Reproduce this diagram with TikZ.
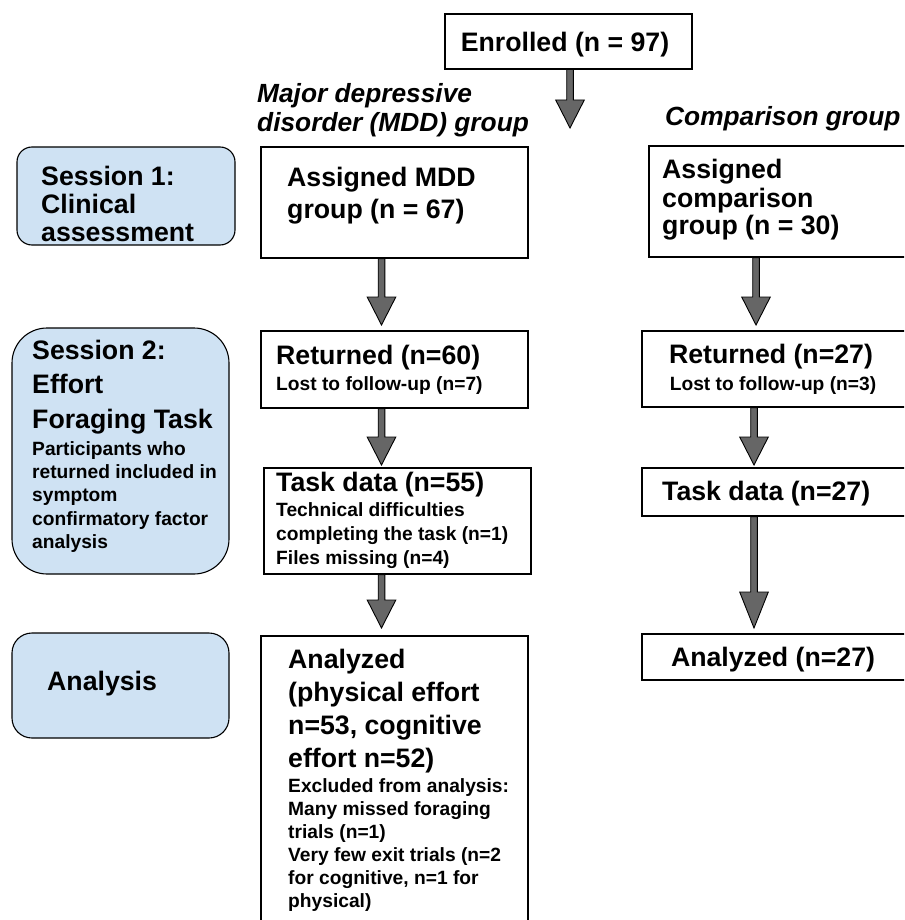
\documentclass[tikz,border=0pt]{standalone}
\usepackage{fontspec}
\setmainfont{Liberation Sans}
\usetikzlibrary{calc}
\definecolor{sessfill}{HTML}{CFE2F3}
\definecolor{arrfill}{HTML}{666666}
\newcommand{\blockarrow}[3][28]{%
  \draw[flowarr] let \p1=(#2), \p2=(#3) in
    (\x2-3.3pt,\y1) -- (\x2-3.3pt,\y2+#1pt) -- (\x2-14.3pt,\y2+#1pt) -- (\x2,\y2)
    -- (\x2+14.3pt,\y2+#1pt) -- (\x2+3.3pt,\y2+#1pt) -- (\x2+3.3pt,\y1) -- cycle;}
\begin{document}
\begin{tikzpicture}[x=1pt,y=-1pt,
  box/.style={draw=black, line width=1.1pt, fill=white, rectangle, inner sep=0pt},
  sess/.style={draw=black, line width=1.1pt, fill=sessfill, rectangle, inner sep=0pt},
  flowarr/.style={draw=black, line width=0.9pt, fill=arrfill, line join=miter},
  txt/.style={inner sep=0pt, anchor=north west, align=left, text=black},
  one/.style={inner sep=0pt, anchor=base west, text=black},
  bigf/.style={font=\fontsize{26.7}{30}\selectfont\bfseries},
  smallf/.style={font=\fontsize{19.2}{23.3}\selectfont\bfseries}]
\useasboundingbox (0,0) rectangle (904,920);
\clip (0,0) rectangle (904,920);

% boxes
\node[box, minimum width=247pt, minimum height=55pt] (enr) at (568.5,41.5) {};
\node[box, minimum width=267pt, minimum height=111pt] (mdd1) at (394.5,202.5) {};
\node[box, minimum width=267pt, minimum height=77pt] (mdd2) at (394.5,369.5) {};
\node[box, minimum width=267pt, minimum height=106pt] (mdd3) at (397.5,521) {};
\node[box, minimum width=267pt, minimum height=304pt] (mdd4) at (394.5,788) {};
\node[box, minimum width=271pt, minimum height=111pt] (cmp1) at (784.5,201.5) {};
\node[box, minimum width=278pt, minimum height=76pt] (cmp2) at (781,369) {};
\node[box, minimum width=278pt, minimum height=48pt] (cmp3) at (781,492) {};
\node[box, minimum width=278pt, minimum height=46pt] (cmp4) at (781,657) {};
\node[sess, rounded corners=15pt, minimum width=218pt, minimum height=98pt] (s1) at (126,196) {};
\node[sess, rounded corners=35pt, minimum width=217pt, minimum height=246pt] (s2) at (120.5,451) {};
\node[sess, rounded corners=20pt, minimum width=217pt, minimum height=105pt] (s3) at (120.5,685.5) {};

% arrow tips
\coordinate (t1) at (570,128);
\coordinate (t2) at (381.5,325);
\coordinate (t3) at (381.5,465);
\coordinate (t4) at (381.5,628);
\coordinate (t5) at (756,325);
\coordinate (t6) at (754,465);
\coordinate (t7) at (754,628);

\blockarrow{enr.south -| t1}{t1}
\blockarrow{mdd1.south -| t2}{t2}
\blockarrow{mdd2.south -| t3}{t3}
\blockarrow{mdd3.south -| t4}{t4}
\blockarrow{cmp1.south -| t5}{t5}
\blockarrow{cmp2.south -| t6}{t6}
\blockarrow[36]{cmp3.south -| t7}{t7}

% texts
\node[inner sep=0pt, anchor=base, bigf] (enrT) at (565,51.5) {Enrolled (n = 97)};
\node[txt, font=\fontsize{26.3}{29}\selectfont\bfseries\itshape] (mddlab) at (257,81.7) {\strut Major depressive\\disorder (MDD) group};
\node[one, font=\fontsize{26.3}{29}\selectfont\bfseries\itshape] (cmplab) at (665,126) {Comparison group};

\node[txt, font=\fontsize{26.7}{28}\selectfont\bfseries] (s1T) at (41,165.4) {\strut Session 1:\\Clinical\\assessment};
\node[txt, font=\fontsize{26.7}{34.5}\selectfont\bfseries] (s2T) at (32,334.9) {\strut Session 2:\\Effort\\Foraging Task};
\node[txt, smallf] (s2S) at (32,438.7) {\strut Participants who\\returned included in\\symptom\\confirmatory factor\\analysis};
\node[one, bigf] (s3T) at (47,690) {Analysis};

\node[txt, font=\fontsize{26.7}{31.5}\selectfont\bfseries] (m1T) at (287,164.6) {\strut Assigned MDD\\group (n = 67)};
\node[one, bigf] (m2T) at (276,364) {Returned (n=60)};
\node[one, smallf] (m2S) at (276,390) {Lost to follow-up (n=7)};
\node[one, bigf] (m3T) at (276,491.7) {Task data (n=55)};
\node[txt, font=\fontsize{19.2}{24}\selectfont\bfseries] (m3S) at (276,499.9) {\strut Technical difficulties\\completing the task (n=1)\\Files missing (n=4)};
\node[txt, font=\fontsize{26.7}{33}\selectfont\bfseries] (m4T) at (288,644.9) {\strut Analyzed\\(physical effort\\n=53, cognitive\\effort n=52)};
\node[txt, font=\fontsize{19.2}{23}\selectfont\bfseries] (m4S) at (288,776.6) {\strut Excluded from analysis:\\Many missed foraging\\trials (n=1)\\Very few exit trials (n=2\\for cognitive, n=1 for\\physical)};

\node[txt, font=\fontsize{26.7}{27}\selectfont\bfseries] (c1T) at (662,159.1) {\strut Assigned\\comparison\\group (n = 30)};
\node[inner sep=0pt, anchor=base, bigf] (c2T) at (771,363) {Returned (n=27)};
\node[inner sep=0pt, anchor=base, smallf] (c2S) at (773,390) {Lost to follow-up (n=3)};
\node[one, bigf] (c3T) at (662,500) {Task data (n=27)};
\node[inner sep=0pt, anchor=base, bigf] (c4T) at (773,666.7) {Analyzed (n=27)};
\end{tikzpicture}
\end{document}
